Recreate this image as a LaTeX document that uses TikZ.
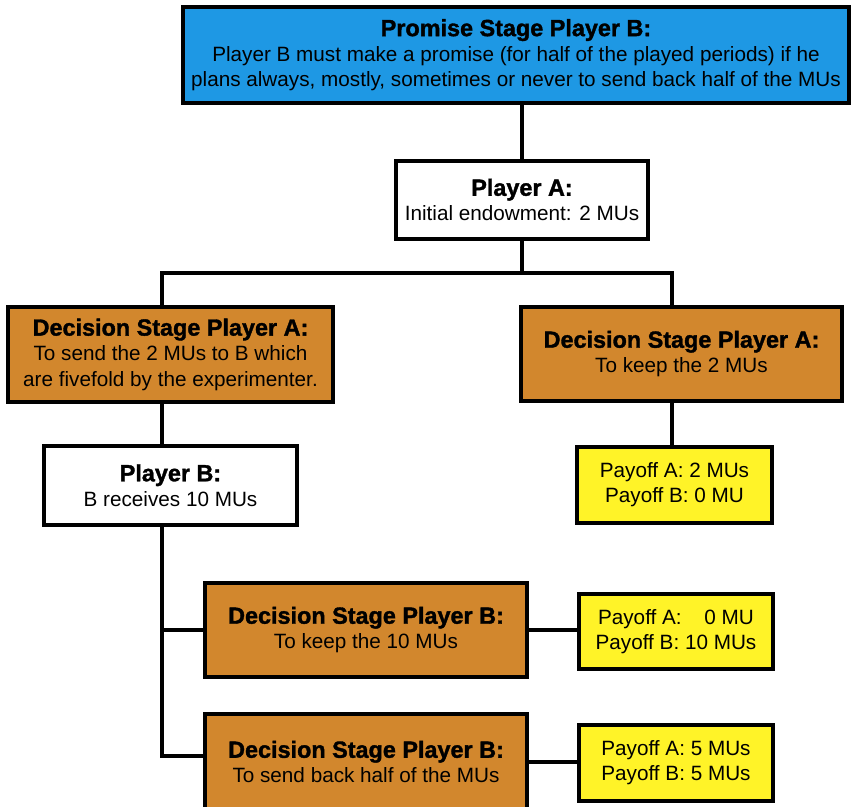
\documentclass[tikz,border=0pt]{standalone}
\usepackage{fontspec}
\setmainfont{Liberation Sans}
\newfontfamily\headfont{Liberation Sans}[BoldFeatures={FakeBold=1.5}]
\usepackage{tikz}
\definecolor{promiseblue}{RGB}{30,152,228}
\definecolor{stageorange}{RGB}{210,135,45}
\definecolor{payyellow}{RGB}{255,243,40}
\newcommand{\hd}[1]{{\headfont\bfseries\fontsize{11.7}{12.7}\selectfont #1}\\}

\begin{document}
\begin{tikzpicture}[x=.5pt,y=-.5pt,
    box/.style={draw,line width=2pt,align=center,inner sep=0pt,
                font=\fontsize{10.35}{12.6}\selectfont},
    stage/.style={box,fill=stageorange},
    payoff/.style={box,fill=payyellow,minimum width=97pt,minimum height=38pt},
    link/.style={line width=1.8pt}]
  \useasboundingbox (0,0) rectangle (852,807);
   \coordinate (lt) at (162,273);
   \coordinate (rt) at (672,273);
   \coordinate (bt) at (162,756);
  % promise and first mover
  \node[box,fill=promiseblue,minimum width=333pt,minimum height=48pt] (promise) at (516,55)
     {\hd{Promise Stage Player B:}Player B must make a promise (for half of the played periods) if he\\
      plans always, mostly, sometimes or never to send back half of the MUs};
  \node[box,fill=white,minimum width=126pt,minimum height=39pt] (playerA) at (522,200)
     {\hd{Player A:}Initial endowment: 2 MUs};
  % decisions of A
  \node[stage,minimum width=162.5pt,minimum height=47.5pt] (decA1) at (170.5,354.5)
     {\hd{Decision Stage Player A:}To send the 2 MUs to B which\\are fivefold by the experimenter.};
  \node[stage,minimum width=160.5pt,minimum height=47pt] (decA2) at (681.5,354)
     {\hd{Decision Stage Player A:}To keep the 2 MUs};
  \node[box,fill=white,minimum width=126.5pt,minimum height=39.5pt] (playerB) at (170.5,485.5)
     {\hd{Player B:}B receives 10 MUs};
  \node[payoff,minimum width=97.5pt] (payA2) at (674.5,485)
     {Payoff A: 2 MUs\\Payoff B: 0 MU};
  % decisions of B
  \node[stage,minimum width=161pt,minimum height=47pt] (decB1) at (366,630)
     {\hd{Decision Stage Player B:}To keep the 10 MUs};
  \node[stage,minimum width=161pt,minimum height=48pt] (decB2) at (366,762)
     {\hd{Decision Stage Player B:}To send back half of the MUs};
  \node[payoff,minimum height=37.5pt] (payB1) at (676,631.5)
     {Payoff A:\hspace{1.1em}0 MU\\Payoff B: 10 MUs};
  \node[payoff] (payB2) at (676,763)
     {Payoff A: 5 MUs\\Payoff B: 5 MUs};
  % connectors
  \draw[link] (playerA.north) -- (playerA.north |- promise.south);
  \draw[link] (playerA.south) -- (playerA.south |- lt);
  \draw[link] (lt |- decA1.north) -- (lt) -- (rt) -- (rt |- decA2.north);
  \draw[link] (lt |- decA1.south) -- (lt |- playerB.north);
  \draw[link] (rt |- decA2.south) -- (rt |- payA2.north);
  \draw[link] (lt |- playerB.south) -- (bt) -- (bt -| decB2.west);
  \draw[link] (lt |- decB1.west) -- (decB1.west);
  \draw[link] (decB1.east) -- (decB1.east -| payB1.west);
  \draw[link] (decB2.east) -- (decB2.east -| payB2.west);
\end{tikzpicture}
\end{document}
